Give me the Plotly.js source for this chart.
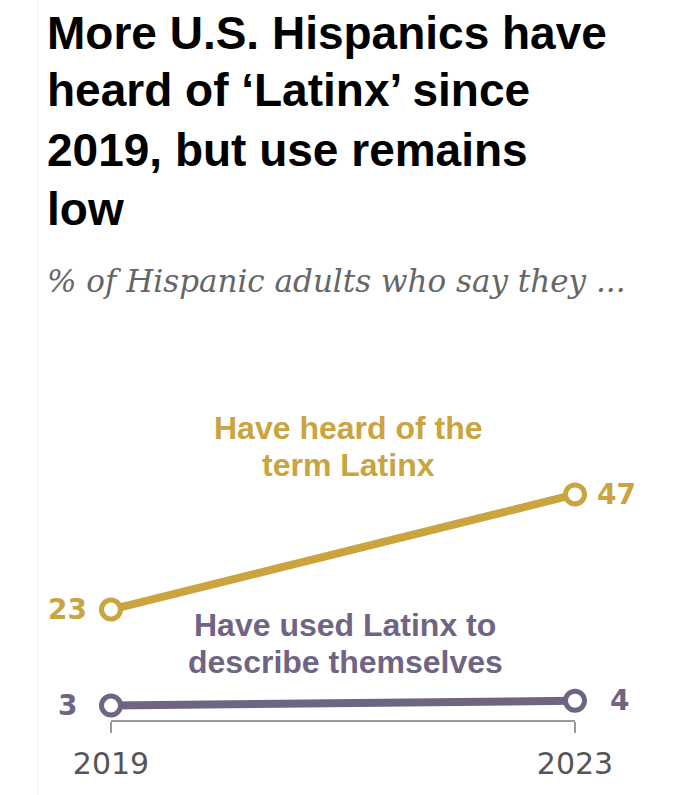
<!DOCTYPE html>
<html><head><meta charset="utf-8">
<script src="https://cdn.plot.ly/plotly-3.0.1.min.js"></script>
<style>body{margin:0;background:#fff}#c{width:690px;height:795px}</style>
</head><body><div id="c"></div>
<script>
const years = [2019, 2023];
const heard = [23, 47];
const used = [3, 4];
const heardLabel = ["Have heard of the", "term Latinx"];
const usedLabel = ["Have used Latinx to", "describe themselves"];
const titleLines = ["More U.S. Hispanics have", "heard of ‘Latinx’ since", "2019, but use remains", "low"];
const subtitleText = "% of Hispanic adults who say they ...";

const gold = "#C9A43F", purple = "#6F6583";
const sansB = "'Liberation Sans', Arial, sans-serif";
const wide = "'DejaVu Sans', sans-serif";

function series(y, color, name) {
  return {x: years, y: y, name: name, type: 'scatter', mode: 'lines+markers', cliponaxis: false,
    line: {color: color, width: 8},
    marker: {symbol: 'circle', size: 19, color: '#fff', line: {color: color, width: 5}},
    hoverinfo: 'skip'};
}
const data = [series(heard, gold, 'heard'), series(used, purple, 'used')];

const W = 690, L = 111, R = 115, T = 480, B = 75, H = 795;
const PH = H - T - B;
const px = v => (v - L) / (W - L - R);
const py = v => (H - B - v) / PH;

const ann = [];
function valLab(x, y, t, color, side, gap) {
  ann.push({x: x, y: y, xref: 'x', yref: 'y', text: t, showarrow: false,
    xanchor: side === 'l' ? 'right' : 'left', xshift: side === 'l' ? -gap : gap,
    font: {family: wide, size: 28, color: color, weight: 'bold'}});
}
valLab(years[0], heard[0], String(heard[0]), gold, 'l', 22);
valLab(years[1], heard[1], String(heard[1]), gold, 'r', 20);
valLab(years[0], used[0], String(used[0]), purple, 'l', 32);
valLab(years[1], used[1], String(used[1]), purple, 'r', 33);

function textLine(t, xPix, yPix, xanchor, font) {
  ann.push({x: px(xPix), y: py(yPix), xref: 'paper', yref: 'paper', xanchor: xanchor, yanchor: 'middle',
    text: t, showarrow: false, font: font});
}
const heardY = [428, 465], usedY = [625, 662];
heardLabel.forEach((t, i) => textLine('<b>' + t + '</b>', 348, heardY[i], 'center',
  {family: sansB, size: 32, color: gold}));
usedLabel.forEach((t, i) => textLine('<b>' + t + '</b>', 345, usedY[i], 'center',
  {family: sansB, size: 32, color: purple}));
const titleY = [33, 90, 150, 209];
titleLines.forEach((t, i) => textLine('<b>' + t + '</b>', 45, titleY[i], 'left',
  {family: sansB, size: 46, color: '#000'}));
textLine('<i>' + subtitleText + '</i>', 45, 281, 'left',
  {family: "'DejaVu Serif', Georgia, serif", size: 31, color: '#666'});

const layout = {
  width: W, height: H, paper_bgcolor: '#fff', plot_bgcolor: '#fff', showlegend: false,
  margin: {l: L, r: R, t: T, b: B},
  xaxis: {range: [2019, 2023], tickvals: years, ticktext: years.map(String),
    showgrid: false, zeroline: false, showline: true, linecolor: '#9a9a9a', linewidth: 2,
    ticks: 'outside', ticklen: 11, tickwidth: 2, tickcolor: '#9a9a9a', ticklabelstandoff: 5,
    tickfont: {family: wide, size: 30, color: '#555'}},
  yaxis: {range: [0, 50], visible: false, fixedrange: true},
  annotations: ann,
  shapes: [{type: 'line', xref: 'paper', yref: 'paper', x0: px(38), x1: px(38), y0: py(795), y1: py(0),
    line: {color: '#f2f2f2', width: 1}, layer: 'below'}]
};
Plotly.newPlot('c', data, layout, {staticPlot: true});
</script></body></html>
